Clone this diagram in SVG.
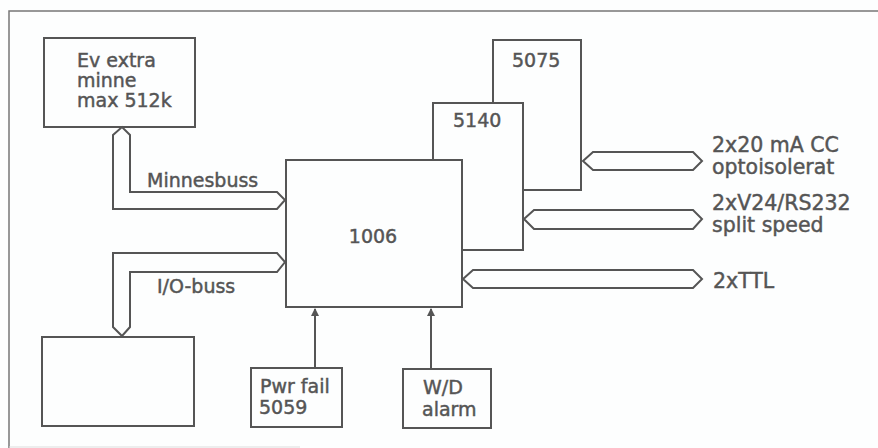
<svg xmlns="http://www.w3.org/2000/svg" width="878" height="448" viewBox="0 0 878 448">
<style>
.b{fill:none;stroke:#555;stroke-width:2;stroke-linejoin:miter}
.t{font-family:"DejaVu Sans",sans-serif;font-size:19px;fill:#555;stroke:#555;stroke-width:0.45}
.r{font-family:"DejaVu Sans",sans-serif;font-size:20.5px;fill:#555;stroke:#555;stroke-width:0.45}
.f{fill:none;stroke:#777;stroke-width:1.5}
</style>
<defs>
<marker id="ah" markerWidth="8" markerHeight="10" refX="7" refY="4" orient="auto" markerUnits="userSpaceOnUse">
<path d="M0,0 L8,4 L0,8 Z" fill="#555"/>
</marker>
</defs>
<rect width="878" height="448" fill="#fdfefe"/>
<path class="f" d="M878,11 L9,11 L9,448"/>
<path d="M9,447 L300,447" stroke="#ddd" stroke-width="1"/>

<g id="mem">
<rect class="b" x="44" y="38" width="151" height="89"/>
<text class="t" x="77" y="67">Ev extra</text>
<text class="t" x="77" y="87">minne</text>
<text class="t" x="77" y="107">max 512k</text>
</g>
<g id="io">
<rect class="b" x="42" y="337" width="152" height="89"/>
</g>
<g id="n5075">
<path class="b" d="M493,103 L493,40 L581,40 L581,190 L523,190"/>
<text class="t" x="512" y="67">5075</text>
</g>
<g id="n5140">
<path class="b" d="M433,160 L433,103 L523,103 L523,250 L462,250"/>
<text class="t" x="453" y="127">5140</text>
</g>
<g id="n1006">
<rect class="b" x="286" y="160" width="176" height="147"/>
<text class="t" x="373" y="243" text-anchor="middle">1006</text>
</g>
<g id="pwr">
<rect class="b" x="251" y="368" width="91" height="59"/>
<text class="t" x="260" y="393">Pwr fail</text>
<text class="t" x="259" y="414">5059</text>
</g>
<g id="wd">
<rect class="b" x="403" y="369" width="88" height="59"/>
<text class="t" x="423" y="394">W/D</text>
<text class="t" x="422" y="416">alarm</text>
</g>

<g id="connectors">
<path class="b" d="M113,135 L122,127 L130,135 L130,192 L277,192 L285,200 L277,209 L113,209 Z"/>
<text class="t" x="147" y="187">Minnesbuss</text>
<path class="b" d="M113,253 L277,253 L285,262 L277,272 L130,272 L130,327 L122,336 L113,327 Z"/>
<text class="t" x="157" y="293">I/O-buss</text>
<path class="b" d="M583,161 L593,152 L693,152 L702,161 L693,170 L593,170 Z"/>
<text class="r" x="712" y="152">2x20 mA CC</text>
<text class="r" x="712" y="174">optoisolerat</text>
<path class="b" d="M524,219 L534,210 L693,210 L702,219 L693,229 L534,229 Z"/>
<text class="r" x="712" y="210">2xV24/RS232</text>
<text class="r" x="712" y="232">split speed</text>
<path class="b" d="M463,279 L473,270 L693,270 L702,279 L693,288 L473,288 Z"/>
<text class="r" x="713" y="288">2xTTL</text>
<line class="b" x1="315" y1="368" x2="315" y2="309" marker-end="url(#ah)"/>
<line class="b" x1="431" y1="369" x2="431" y2="309" marker-end="url(#ah)"/>
</g>
</svg>
